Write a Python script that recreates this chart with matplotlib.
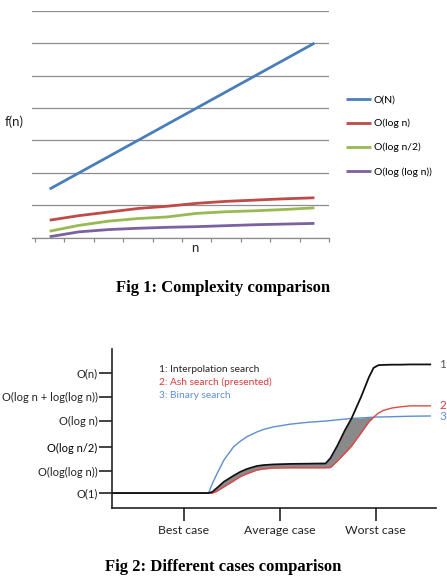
import numpy as np
import matplotlib
matplotlib.use('Agg')
import matplotlib.pyplot as plt

plt.rcParams['font.family'] = ['Lato', 'DejaVu Sans']

# Fig 1 data: growth of the complexity functions
n_points = [1, 2, 3, 4, 5, 6, 7, 8, 9, 10]
o_n = [1.5, 2.0, 2.5, 3.0, 3.5, 4.0, 4.5, 5.0, 5.5, 6.0]
o_log_n = [0.54, 0.68, 0.79, 0.90, 0.97, 1.06, 1.12, 1.16, 1.20, 1.23]
o_log_n_half = [0.20, 0.38, 0.51, 0.59, 0.64, 0.75, 0.80, 0.83, 0.87, 0.92]
o_log_log_n = [0.03, 0.18, 0.25, 0.29, 0.32, 0.34, 0.37, 0.40, 0.42, 0.44]
series_names = ['O(N)', 'O(log n)', 'O(log n/2)', 'O(log (log n))']

# Fig 2 data: cost of each search in the three cases
case_x = [0.25, 1.26, 1.30, 1.35, 1.42, 1.52, 1.59, 1.66, 1.76, 1.83, 1.94, 2.11, 2.30,
          2.48, 2.53, 2.60, 2.68, 2.75, 2.85, 2.93, 2.98, 3.03, 3.08, 3.17, 3.26, 3.36, 3.57]
interp_search = [0, 0, 0.05, 0.22, 0.47, 0.72, 0.88, 1.0, 1.12, 1.16, 1.19, 1.21, 1.22,
                 1.23, 1.45, 1.95, 2.6, 3.1, 4.0, 4.8, 5.2, 5.31, 5.32, 5.33, 5.33, 5.34, 5.34]
ash_search = [0, 0, 0, 0.08, 0.26, 0.5, 0.68, 0.8, 0.95, 1.0, 1.04, 1.05, 1.05,
              1.05, 1.06, 1.32, 1.65, 1.95, 2.5, 2.95, 3.15, 3.32, 3.43, 3.53, 3.58, 3.62, 3.62]
binary_search = [0, 0, 0.4, 0.82, 1.37, 1.92, 2.15, 2.34, 2.53, 2.64, 2.75, 2.86, 2.94,
                 2.99, 3.01, 3.04, 3.07, 3.1, 3.12, 3.14, 3.15, 3.16, 3.16, 3.17, 3.18, 3.19, 3.2]
case_ticks = [1, 2, 3]
case_labels = ['Best case', 'Average case', 'Worst case']
order_ticks = [0, 0.9, 1.9, 3.0, 4.0, 5.0]
order_labels = ['O(1)', 'O(log(log n))', 'O(log n/2)', 'O(log n)', 'O(log n + log(log n))', 'O(n)']

fig = plt.figure(figsize=(4.47, 5.79), dpi=100)

# ---- Fig 1 ----
ax1 = fig.add_axes([0.0723, 0.5895, 0.664, 0.392])
colors1 = ['#4a7ebb', '#be4b48', '#98b954', '#7d60a0']
for ys, c, name in zip([o_n, o_log_n, o_log_n_half, o_log_log_n], colors1, series_names):
    ax1.plot(n_points, ys, color=c, lw=2.0, label=name, solid_capstyle='butt')
ax1.set_xlim(0.41, 10.5)
ax1.set_ylim(0, 7)
ax1.set_yticks(range(0, 8))
ax1.yaxis.grid(True, color='#8c8c8c', lw=0.9)
ax1.set_axisbelow(True)
ax1.set_yticklabels([])
ax1.tick_params(axis='y', length=0)
ax1.set_xticks(np.arange(0.5, 11, 1))
ax1.set_xticklabels([])
ax1.tick_params(axis='x', direction='out', length=3, color='#8c8c8c', width=0.9)
for s in ['top', 'right', 'left']:
    ax1.spines[s].set_visible(False)
ax1.spines['bottom'].set_color('#8c8c8c')
ax1.spines['bottom'].set_linewidth(0.9)
fig.text(14 / 447, 1 - 122 / 579, 'f(n)', fontsize=9.5, ha='center', va='center', color='#222222')
fig.text(195 / 447, 1 - 248 / 579, 'n', fontsize=9.5, ha='center', va='center', color='#222222')
ax1.legend(loc='upper left', bbox_to_anchor=(1.04, 0.652), frameon=False, fontsize=7.5,
           handlelength=2.4, handletextpad=0.25, labelspacing=1.4, borderpad=0)

fig.text(0.5, 1 - 288 / 579, 'Fig 1: Complexity comparison', fontsize=12, fontweight='bold',
         family='Liberation Serif', ha='center', va='center')

# ---- Fig 2 ----
ax2 = fig.add_axes([0.2506, 0.1226, 0.7248, 0.2746])
x = np.array(case_x)
black = np.array(interp_search)
red = np.array(ash_search)
blue = np.array(binary_search)
top = np.minimum(black, blue)
ax2.fill_between(x, red, top, where=top > red, color='#8a8a8a', lw=0, interpolate=True)
ax2.plot(x, blue, color='#5b8fd0', lw=1.0)
ax2.plot(x, red, color='#e04848', lw=1.0)
ax2.plot(x, black, color='#111111', lw=1.3)
ax2.set_xlim(0.254, 3.63)
ax2.set_ylim(-0.62, 5.98)
ax2.set_xticks(case_ticks)
ax2.set_xticklabels(case_labels, fontsize=8.8, color='#222222')
ax2.set_yticks(order_ticks)
ax2.set_yticklabels(order_labels, fontsize=8, color='#222222')
ax2.get_yticklabels()[2].set_color('#000000')
ax2.tick_params(axis='both', direction='out', length=9.4, width=1.2, color='#222222')
ax2.tick_params(axis='x', pad=3)
ax2.tick_params(axis='y', pad=1)
for s in ['top', 'right']:
    ax2.spines[s].set_visible(False)
for s in ['left', 'bottom']:
    ax2.spines[s].set_linewidth(1.2)
    ax2.spines[s].set_color('#222222')

leg_items = [('1: Interpolation search', '#222222'),
             ('2: Ash search (presented)', '#d83a3a'),
             ('3: Binary search', '#5b8fd0')]
for i, (txt, c) in enumerate(leg_items):
    ax2.text(0.145, 0.872 - i * 0.083, txt, transform=ax2.transAxes, fontsize=7.3, color=c,
             ha='left', va='center')
ax2.text(1.01, 5.34, '1', color='#555555', fontsize=8.5, va='center', transform=ax2.get_yaxis_transform(), clip_on=False)
ax2.text(1.01, 3.64, '2', color='#d83a3a', fontsize=8.5, va='center', transform=ax2.get_yaxis_transform(), clip_on=False)
ax2.text(1.01, 3.18, '3', color='#5b8fd0', fontsize=8.5, va='center', transform=ax2.get_yaxis_transform(), clip_on=False)

fig.text(0.5, 1 - 567 / 579, 'Fig 2: Different cases comparison', fontsize=12, fontweight='bold',
         family='Liberation Serif', ha='center', va='center')

fig.savefig('out.png', dpi=100)
